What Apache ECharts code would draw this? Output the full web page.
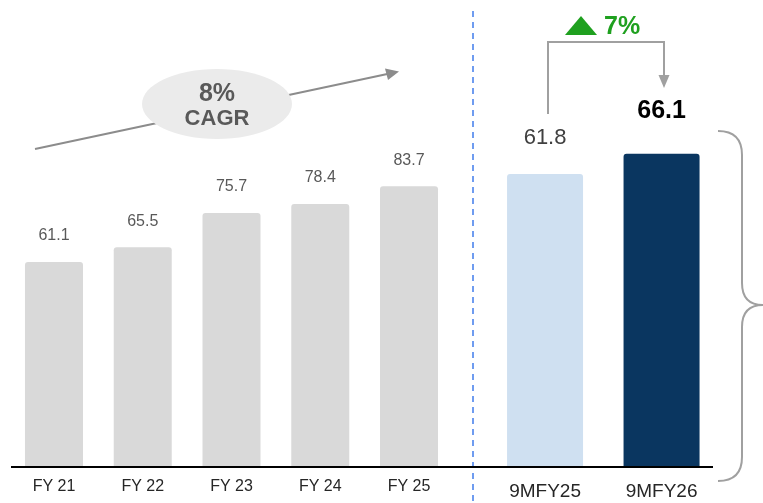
<!DOCTYPE html>
<html>
<head>
<meta charset="utf-8">
<script src="https://cdn.jsdelivr.net/npm/echarts@6/dist/echarts.min.js"></script>
<style>
  html, body { margin: 0; padding: 0; background: #fff; }
  #chart { width: 763px; height: 503px; }
</style>
</head>
<body>
<div id="chart"></div>
<script>
// full years (left block)
const fyCategories = ['FY 21', 'FY 22', 'FY 23', 'FY 24', 'FY 25'];
const fyValues = [61.1, 65.5, 75.7, 78.4, 83.7];

// nine month comparison (right block)
const nineMonthCategories = ['9MFY25', '9MFY26'];
const nineMonthValues = [61.8, 66.1];
const nineMonthColors = ['#cfe0f1', '#0a3660'];

const cagrText = ['8%', 'CAGR'];
const growthText = '7%';

const font = 'Liberation Sans, Arial, sans-serif';

const chart = echarts.init(document.getElementById('chart'));

const nineMonthData = nineMonthValues.map((v, i) => ({
  value: v,
  itemStyle: { color: nineMonthColors[i] },
  label: i === 1
    ? { fontSize: 25, fontWeight: 'bold', color: '#000', distance: 30 }
    : { fontSize: 22, color: '#404040', distance: 25 }
}));

const braceStyle = { stroke: '#a0a0a0', lineWidth: 2, fill: null };

const option = {
  animation: false,
  grid: [
    { left: 9.6, width: 443.8, top: 131.5, bottom: 36 },
    { left: 486.8, width: 233, top: 135.2, bottom: 36 }
  ],
  xAxis: [
    {
      gridIndex: 0,
      type: 'category',
      data: fyCategories,
      axisLine: { show: false },
      axisTick: { show: false },
      axisLabel: { fontFamily: font, fontSize: 16, color: '#262626', margin: 12 }
    },
    {
      gridIndex: 1,
      type: 'category',
      data: nineMonthCategories,
      axisLine: { show: false },
      axisTick: { show: false },
      axisLabel: { fontFamily: font, fontSize: 19, color: '#262626', margin: 15 }
    }
  ],
  yAxis: [
    { gridIndex: 0, type: 'value', min: 0, max: 100, show: false },
    { gridIndex: 1, type: 'value', min: 0, max: 70, show: false }
  ],
  series: [
    {
      type: 'bar',
      xAxisIndex: 0,
      yAxisIndex: 0,
      data: fyValues,
      barWidth: 58,
      itemStyle: { color: '#d9d9d9', borderRadius: [3, 3, 0, 0] },
      label: {
        show: true,
        position: 'top',
        distance: 18,
        fontFamily: font,
        fontSize: 16,
        color: '#595959'
      }
    },
    {
      type: 'bar',
      xAxisIndex: 1,
      yAxisIndex: 1,
      data: nineMonthData,
      barWidth: 76,
      itemStyle: { borderRadius: [3, 3, 0, 0] },
      label: {
        show: true,
        position: 'top',
        fontFamily: font,
        formatter: p => p.value.toFixed(1)
      }
    }
  ],
  graphic: [
    // baseline
    { type: 'line', shape: { x1: 11, y1: 467, x2: 713, y2: 467 }, style: { stroke: '#000', lineWidth: 2 }, z: 10 },
    // divider
    { type: 'line', shape: { x1: 473, y1: 11, x2: 473, y2: 503 }, style: { stroke: '#6f9cf0', lineWidth: 2, lineDash: [6, 5] } },
    // CAGR arrow
    { type: 'line', shape: { x1: 35, y1: 149, x2: 392, y2: 73 }, style: { stroke: '#8c8c8c', lineWidth: 2 } },
    { type: 'polygon', shape: { points: [[399, 71.5], [385, 68.5], [388, 80]] }, style: { fill: '#8c8c8c' } },
    { type: 'ellipse', shape: { cx: 217, cy: 104, rx: 75, ry: 35 }, style: { fill: '#ebebeb' } },
    {
      type: 'text',
      style: { text: cagrText[0], x: 217, y: 94, align: 'center', verticalAlign: 'middle', font: 'bold 25px ' + font, fill: '#595959' }
    },
    {
      type: 'text',
      style: { text: cagrText[1], x: 217, y: 119, align: 'center', verticalAlign: 'middle', font: 'bold 22px ' + font, fill: '#595959' }
    },
    // growth bracket
    {
      type: 'polyline',
      shape: { points: [[548, 114], [548, 42], [664, 42], [664, 82]] },
      style: { stroke: '#a0a0a0', lineWidth: 2, fill: null }
    },
    { type: 'polygon', shape: { points: [[658.5, 75], [669.5, 75], [664, 88]] }, style: { fill: '#a0a0a0' } },
    { type: 'polygon', shape: { points: [[565, 35], [597, 35], [581, 16]] }, style: { fill: '#1fa01f' } },
    {
      type: 'text',
      style: { text: growthText, x: 604, y: 27, align: 'left', verticalAlign: 'middle', font: 'bold 25px ' + font, fill: '#1fa01f' }
    },
    // right brace
    { type: 'bezierCurve', shape: { x1: 718, y1: 131, cpx1: 742, cpy1: 131, x2: 742, y2: 155 }, style: braceStyle },
    { type: 'line', shape: { x1: 742, y1: 155, x2: 742, y2: 283 }, style: braceStyle },
    { type: 'bezierCurve', shape: { x1: 742, y1: 283, cpx1: 742, cpy1: 305, x2: 763, y2: 305 }, style: braceStyle },
    { type: 'bezierCurve', shape: { x1: 763, y1: 305, cpx1: 742, cpy1: 305, x2: 742, y2: 327 }, style: braceStyle },
    { type: 'line', shape: { x1: 742, y1: 327, x2: 742, y2: 457 }, style: braceStyle },
    { type: 'bezierCurve', shape: { x1: 742, y1: 457, cpx1: 742, cpy1: 481, x2: 718, y2: 481 }, style: braceStyle }
  ]
};

chart.setOption(option);
</script>
</body>
</html>
